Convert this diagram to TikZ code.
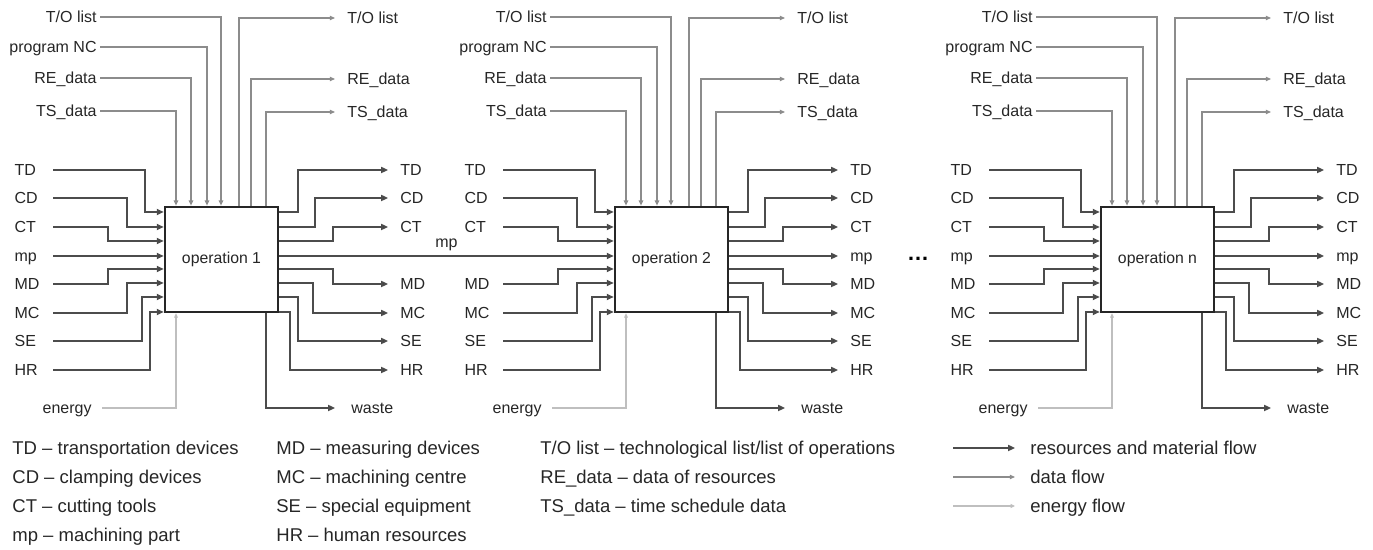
\documentclass[tikz,border=0pt]{standalone}
\usepackage{fontspec}
\setmainfont{Liberation Sans}
\usetikzlibrary{arrows.meta}

\begin{document}
\begin{tikzpicture}[
    x=0.5pt, y=-0.5pt,
    opbox/.style={rectangle, draw=black!85, line width=1.3pt, fill=white, minimum width=56.5pt, minimum height=52.5pt, inner sep=0pt, text=black!85, font=\fontsize{7.9}{9}\selectfont},
    lab/.style={font=\fontsize{8}{9}\selectfont, text=black!85, inner ysep=0pt, inner xsep=6pt, text height=5.7pt, text depth=0pt},
    inlab/.style={lab, anchor=east, text width=13pt, align=left},
    leg/.style={font=\fontsize{9.25}{11}\selectfont, text=black!85, anchor=west, inner sep=0pt, text height=6.6pt, text depth=0pt},
    res/.style={draw=black!70, line width=0.8pt, -{Triangle[length=3.4pt,width=3pt,fill=black!85]}},
    dat/.style={draw=black!45, line width=0.7pt, -{Triangle[length=2.6pt,width=2.2pt,fill=black!70]}},
    ene/.style={draw=black!25, line width=0.7pt, -{Triangle[length=2.2pt,width=1.9pt,fill=black!45]}}
]
\useasboundingbox (0,0) rectangle (1373,550);

% Operations
\foreach \dx/\id/\lbl in {0/1/{operation 1}, 450/2/{operation 2}, 936/n/{operation n}} {
  \node[opbox] (op\id) at (221.5+\dx,259.5) {\lbl};

  % resources in
  \foreach \nm/\ly/\ty/\ex in {TD/170/212/20, CD/198/227/38, CT/227/241/57, MD/284/269/57, MC/313/283/38, SE/341/297/23, HR/370/312/15} {
    \node[inlab] (in-\nm-\id) at (53+\dx,\ly) {\nm};
    \draw[res] (in-\nm-\id.east) -| (165-\ex+\dx,\ty) -- (op\id.west |- 0,\ty);
  }

  % resources out
  \foreach \nm/\sy/\ly/\ex in {TD/212/170/20, CD/227/198/37, CT/241/227/55, MD/269/284/55, MC/283/313/35, SE/297/341/20, HR/312/370/12} {
    \node[lab, anchor=west] (out-\nm-\id) at (388+\dx,\ly) {\nm};
    \draw[res] (op\id.east |- 0,\sy) -| (278+\ex+\dx,\ly) -- (out-\nm-\id.west);
  }

  % data in
  \foreach \nm/\ly/\ex/\txt in {tol/17/56/{T/O list}, nc/47/42/{program NC}, re/78/26/{RE\_data}, ts/111/11/{TS\_data}} {
    \pgfmathsetmacro\xv{165+\ex+\dx}
    \node[lab, anchor=east, inner xsep=1.5pt] (tin-\nm-\id) at (100+\dx,\ly) {\txt};
    \draw[dat] (tin-\nm-\id.east) -| (op\id.north -| \xv,0);
  }

  % data out
  \foreach \nm/\ly/\ex/\txt in {tol/18/74/{T/O list}, re/79/86/{RE\_data}, ts/112/101/{TS\_data}} {
    \pgfmathsetmacro\xv{165+\ex+\dx}
    \node[lab, anchor=west] (tout-\nm-\id) at (335+\dx,\ly) {\txt};
    \draw[dat] (op\id.north -| \xv,0) |- (tout-\nm-\id.west);
  }

  % energy and waste
  \pgfmathsetmacro\xe{176+\dx}
  \pgfmathsetmacro\xw{266+\dx}
  \node[lab, anchor=east, inner xsep=5pt] (en-\id) at (102+\dx,408) {energy};
  \draw[ene] (en-\id.east) -| (op\id.south -| \xe,0);
  \node[lab, anchor=west, inner xsep=8pt] (wa-\id) at (335+\dx,408) {waste};
  \draw[res] (op\id.south -| \xw,0) |- (wa-\id.west);
}

% machining part
\node[inlab] (in-mp-1) at (53,256) {mp};
\draw[res] (in-mp-1.east) -- (op1.west |- in-mp-1.east);
\draw[res] (op1.east |- 0,256) -- node[lab, above=4pt] (mp-12) {mp} (op2.west |- 0,256);
\node[lab, anchor=west] (out-mp-2) at (838,256) {mp};
\draw[res] (op2.east |- 0,256) -- (out-mp-2.west);
\node[inlab] (in-mp-n) at (989,256) {mp};
\draw[res] (in-mp-n.east) -- (opn.west |- in-mp-n.east);
\node[lab, anchor=west] (out-mp-n) at (1324,256) {mp};
\draw[res] (opn.east |- 0,256) -- (out-mp-n.west);
\node[anchor=base, inner sep=0pt, font=\bfseries\fontsize{11}{11}\selectfont] (more) at (918,261) {…};

% Legend
\node[leg] (lg-td) at (12,448) {TD – transportation devices};
\node[leg] (lg-cd) at (12,477) {CD – clamping devices};
\node[leg] (lg-ct) at (12,506) {CT – cutting tools};
\node[leg] (lg-mp) at (12,535) {mp – machining part};
\node[leg] (lg-md) at (276,448) {MD – measuring devices};
\node[leg] (lg-mc) at (276,477) {MC – machining centre};
\node[leg] (lg-se) at (276,506) {SE – special equipment};
\node[leg] (lg-hr) at (276,535) {HR – human resources};
\node[leg] (lg-tol) at (540,448) {T/O list – technological list/list of operations};
\node[leg] (lg-re) at (540,477) {RE\_data – data of resources};
\node[leg] (lg-ts) at (540,506) {TS\_data – time schedule data};

\coordinate (lg-res-start) at (953,448);
\coordinate (lg-dat-start) at (953,477);
\coordinate (lg-ene-start) at (953,506);
\node[leg, inner xsep=7.5pt] (lg-res) at (1015,448) {resources and material flow};
\node[leg, inner xsep=7.5pt] (lg-dat) at (1015,477) {data flow};
\node[leg, inner xsep=7.5pt] (lg-ene) at (1015,506) {energy flow};
\draw[res] (lg-res-start) -- (lg-res.west);
\draw[dat] (lg-dat-start) -- (lg-dat.west);
\draw[ene] (lg-ene-start) -- (lg-ene.west);

\end{tikzpicture}
\end{document}
